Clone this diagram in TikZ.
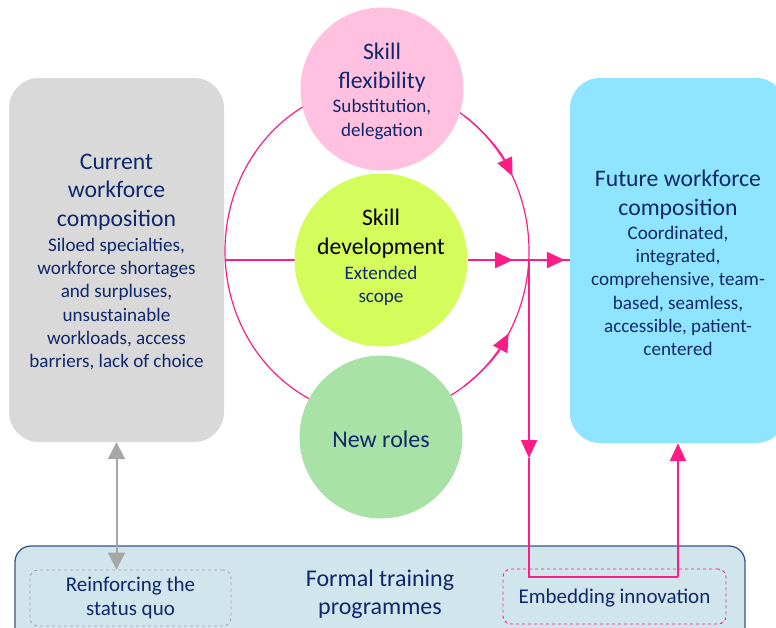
\documentclass[tikz,border=0pt]{standalone}
\usepackage{fontspec}
\setmainfont{Carlito}
\usetikzlibrary{arrows.meta}
\definecolor{navy}{HTML}{10286A}
\definecolor{mag}{HTML}{FF1C86}
\definecolor{pinkc}{HTML}{FFC1DF}
\definecolor{limec}{HTML}{D4FD5C}
\definecolor{greenc}{HTML}{A9E2A6}
\definecolor{grayc}{HTML}{D9D9D9}
\definecolor{cyanc}{HTML}{8FE4FF}
\definecolor{bluebox}{HTML}{D0E5EC}
\definecolor{boxline}{HTML}{3A5488}
\definecolor{garrow}{HTML}{A6A6A6}
\tikzset{
  ttl/.style={align=center, text=navy, font=\fontsize{23.7}{28.5}\selectfont, inner sep=0pt},
  sub/.style={align=center, text=navy, font=\fontsize{19.1}{23.2}\selectfont, inner sep=0pt},
  bsub/.style={align=center, text=navy, font=\fontsize{21}{24}\selectfont, inner sep=0pt},
  bubble/.style={circle, draw=none, inner sep=0pt},
  bigbox/.style={rectangle, rounded corners=30pt, draw=none, inner sep=0pt},
  thinmag/.style={draw=mag, line width=1.2pt},
  thickmag/.style={draw=mag, line width=2.2pt},
  magtip/.style={-{Triangle[length=18pt,width=16pt]}},
  dashbox/.style={rectangle, rounded corners=8pt, dashed, line width=0.9pt, inner sep=0pt}
}
\begin{document}
\begin{tikzpicture}[x=1pt,y=-1pt]
\useasboundingbox (0,0) rectangle (776,627);
\clip (0,0) rectangle (776,627);

% boxes
\node[bigbox, fill=grayc, minimum width=215pt, minimum height=364pt] (cur) at (116.5,260) {};
\node[bigbox, fill=cyanc, minimum width=216pt, minimum height=365pt] (fut) at (678,260.5) {};
\node[rectangle, rounded corners=16pt, fill=bluebox, draw=boxline, line width=1.3pt,
      minimum width=730pt, minimum height=110pt, inner sep=0pt] (ftp) at (380,601) {};
\node[dashbox, draw=garrow, minimum width=201pt, minimum height=56pt] (reinf) at (130.5,598) {};
\node[dashbox, draw=mag, minimum width=223pt, minimum height=55pt] (emb) at (614.5,596.5) {};

% ellipse loop and lines
\draw[thinmag] (377,251) ellipse [x radius=152, y radius=165];
\coordinate (L) at (225.2,260);
\coordinate (V) at (529,260);
\coordinate (Vm) at (529,458);
\coordinate (Vb) at (529,577);
\coordinate (Fb) at (678,577);
\draw[draw=mag, line width=1.6pt] (L) -- (381,260);

% circles
\node[bubble, fill=pinkc, minimum size=163pt] (flex) at (382,89) {};
\node[bubble, fill=limec, minimum size=173pt] (dev) at (381,260) {};
\node[bubble, fill=greenc, minimum size=163pt] (new) at (381,437) {};

% arrows on loop
\draw[thinmag, magtip] (377,251) ++(-55:152 and 165) arc[start angle=-55, end angle=-27, x radius=152, y radius=165];
\draw[thinmag, magtip] (377,251) ++(55:152 and 165) arc[start angle=55, end angle=30, x radius=152, y radius=165];

% output lines
\draw[thickmag] (dev.east) -- (fut.west |- dev.east);
\draw[thickmag, magtip] (dev.east) -- (513,260);
\draw[thickmag, magtip] (V) -- ([xshift=-5pt]fut.west |- V);
\draw[thickmag, magtip] (V) -- (Vm);
\draw[thickmag] (Vm) -- (Vb) -- (Fb);
\draw[thickmag, magtip] (Fb) -- (fut.south -| Fb);

% gray double arrow
\draw[draw=garrow, line width=2pt, {Triangle[length=17pt,width=17pt]}-{Triangle[length=17pt,width=17pt]}]
  (cur.south) -- (cur.south |- reinf.north);

% texts
\node[ttl] (curT) at (116.5,192) {Current\\workforce\\composition};
\node[sub] (curS) at (116.5,304) {Siloed specialties,\\workforce shortages\\and surpluses,\\unsustainable\\workloads, access\\barriers, lack of choice};

\node[ttl] (futT) at (678,194.5) {Future workforce\\composition};
\node[sub] (futS) at (678,291) {Coordinated,\\integrated,\\comprehensive, team-\\based, seamless,\\accessible, patient-\\centered};

\node[ttl] (flexT) at (382,67.5) {Skill\\flexibility};
\node[sub] (flexS) at (382,119.5) {Substitution,\\delegation};

\node[ttl, text=black] (devT) at (381,233.5) {Skill\\development};
\node[sub] (devS) at (381,286) {Extended\\scope};

\node[ttl, font=\fontsize{24}{28}\selectfont] (newT) at (381,439) {New roles};

\node[ttl, font=\fontsize{24}{28}\selectfont] (ftpT) at (380,594) {Formal training\\programmes};
\node[bsub] (reinfT) at (130.5,597.5) {Reinforcing the\\status quo};
\node[bsub] (embT) at (614.5,598.5) {Embedding innovation};
\end{tikzpicture}
\end{document}
